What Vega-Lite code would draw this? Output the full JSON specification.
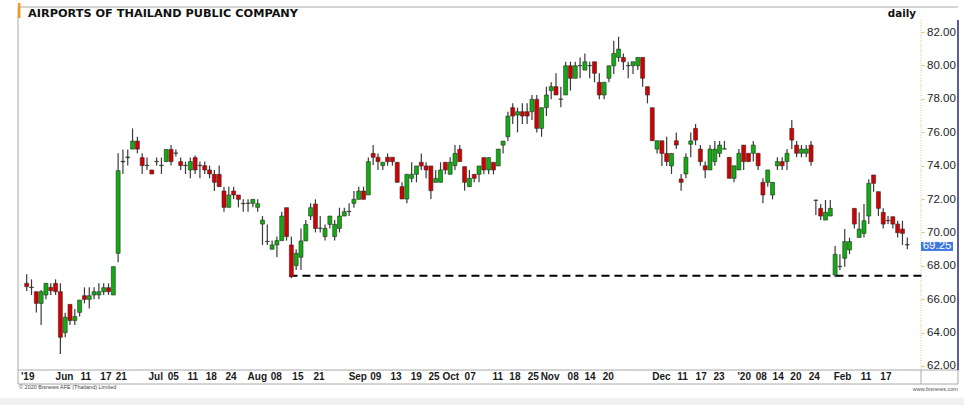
{
  "$schema": "https://vega.github.io/schema/vega-lite/v6.json",
  "width": 903,
  "height": 363,
  "autosize": {"type": "none"},
  "padding": {"left": 18, "top": 7, "right": 43, "bottom": 35},
  "background": "white",
  "config": {"view": {"stroke": null}, "font": "Liberation Sans"},
  "resolve": {"axis": {"x": "independent", "y": "independent"}},
  "datasets": {
    "candles": [
      {"i":0,"o":66.95,"h":67.49,"l":66.49,"c":66.75},
      {"i":1,"o":66.72,"h":67.19,"l":66.25,"c":66.70},
      {"i":2,"o":66.45,"h":66.45,"l":65.21,"c":65.75},
      {"i":3,"o":65.75,"h":66.55,"l":64.46,"c":66.45},
      {"i":4,"o":66.25,"h":66.95,"l":65.99,"c":66.95},
      {"i":5,"o":66.71,"h":66.95,"l":66.25,"c":66.51},
      {"i":6,"o":66.95,"h":67.19,"l":66.25,"c":66.45},
      {"i":7,"o":66.45,"h":66.95,"l":62.72,"c":63.72},
      {"i":8,"o":63.99,"h":65.19,"l":63.72,"c":64.92},
      {"i":9,"o":65.69,"h":65.69,"l":64.46,"c":64.72},
      {"i":10,"o":64.72,"h":65.41,"l":64.46,"c":64.96},
      {"i":11,"o":65.21,"h":65.95,"l":64.96,"c":65.95},
      {"i":12,"o":66.21,"h":66.71,"l":65.75,"c":65.99},
      {"i":13,"o":65.99,"h":66.71,"l":65.45,"c":66.21},
      {"i":14,"o":66.25,"h":66.71,"l":65.99,"c":66.45},
      {"i":15,"o":66.25,"h":66.95,"l":65.99,"c":66.45},
      {"i":16,"o":66.45,"h":66.95,"l":66.25,"c":66.69},
      {"i":17,"o":66.69,"h":66.95,"l":66.25,"c":66.45},
      {"i":18,"o":66.25,"h":67.95,"l":66.25,"c":67.95},
      {"i":19,"o":68.75,"h":74.74,"l":68.21,"c":73.70},
      {"i":20,"o":74.26,"h":74.97,"l":73.50,"c":74.22},
      {"i":21,"o":74.48,"h":74.97,"l":74.00,"c":74.52},
      {"i":22,"o":74.99,"h":76.23,"l":74.99,"c":75.47},
      {"i":23,"o":75.47,"h":75.73,"l":74.74,"c":74.99},
      {"i":24,"o":74.48,"h":74.74,"l":73.50,"c":74.00},
      {"i":25,"o":74.02,"h":74.48,"l":73.74,"c":74.00},
      {"i":26,"o":73.74,"h":73.74,"l":73.50,"c":73.50},
      {"i":27,"o":74.24,"h":74.48,"l":74.00,"c":74.26},
      {"i":28,"o":74.00,"h":74.48,"l":73.50,"c":74.02},
      {"i":29,"o":74.24,"h":74.97,"l":74.24,"c":74.97},
      {"i":30,"o":74.97,"h":75.23,"l":74.00,"c":74.24},
      {"i":31,"o":74.74,"h":74.97,"l":74.54,"c":74.76},
      {"i":32,"o":74.24,"h":74.48,"l":73.74,"c":74.00},
      {"i":33,"o":74.00,"h":74.24,"l":73.50,"c":74.02},
      {"i":34,"o":73.74,"h":74.48,"l":73.24,"c":74.24},
      {"i":35,"o":74.48,"h":74.60,"l":73.50,"c":73.74},
      {"i":36,"o":74.00,"h":74.24,"l":73.24,"c":74.02},
      {"i":37,"o":74.00,"h":74.24,"l":73.50,"c":73.74},
      {"i":38,"o":73.74,"h":74.00,"l":73.24,"c":73.50},
      {"i":39,"o":73.48,"h":73.74,"l":72.48,"c":73.00},
      {"i":40,"o":73.48,"h":74.00,"l":72.74,"c":72.74},
      {"i":41,"o":72.48,"h":72.74,"l":71.24,"c":71.50},
      {"i":42,"o":71.50,"h":72.74,"l":71.50,"c":72.24},
      {"i":43,"o":72.48,"h":72.74,"l":71.98,"c":72.24},
      {"i":44,"o":72.24,"h":72.24,"l":71.50,"c":71.98},
      {"i":45,"o":71.74,"h":71.98,"l":71.24,"c":71.72},
      {"i":46,"o":71.74,"h":71.98,"l":71.24,"c":71.76},
      {"i":47,"o":71.74,"h":71.98,"l":71.50,"c":71.98},
      {"i":48,"o":71.50,"h":71.98,"l":71.24,"c":71.72},
      {"i":49,"o":70.50,"h":70.98,"l":69.25,"c":70.74},
      {"i":50,"o":69.45,"h":70.48,"l":69.25,"c":69.47},
      {"i":51,"o":68.99,"h":69.51,"l":68.99,"c":69.25},
      {"i":52,"o":69.25,"h":69.75,"l":68.51,"c":69.51},
      {"i":53,"o":69.51,"h":71.24,"l":69.51,"c":70.98},
      {"i":54,"o":71.48,"h":71.48,"l":69.51,"c":69.75},
      {"i":55,"o":69.25,"h":69.75,"l":67.25,"c":67.35},
      {"i":56,"o":68.01,"h":68.99,"l":67.75,"c":68.75},
      {"i":57,"o":68.51,"h":70.24,"l":67.75,"c":69.49},
      {"i":58,"o":69.49,"h":70.74,"l":69.49,"c":70.48},
      {"i":59,"o":70.98,"h":71.74,"l":70.74,"c":71.48},
      {"i":60,"o":71.70,"h":71.98,"l":70.00,"c":70.24},
      {"i":61,"o":70.24,"h":70.98,"l":70.00,"c":70.26},
      {"i":62,"o":69.75,"h":70.48,"l":69.51,"c":70.24},
      {"i":63,"o":70.48,"h":70.98,"l":70.24,"c":70.98},
      {"i":64,"o":69.75,"h":70.74,"l":69.51,"c":70.48},
      {"i":65,"o":70.24,"h":71.48,"l":70.00,"c":70.98},
      {"i":66,"o":70.98,"h":71.48,"l":70.98,"c":71.24},
      {"i":67,"o":71.24,"h":71.74,"l":70.98,"c":71.26},
      {"i":68,"o":71.74,"h":72.48,"l":71.48,"c":71.98},
      {"i":69,"o":71.98,"h":72.74,"l":71.98,"c":72.48},
      {"i":70,"o":72.48,"h":72.74,"l":71.98,"c":71.98},
      {"i":71,"o":72.24,"h":74.48,"l":72.24,"c":74.24},
      {"i":72,"o":74.73,"h":75.23,"l":74.04,"c":74.50},
      {"i":73,"o":74.50,"h":74.73,"l":73.74,"c":74.24},
      {"i":74,"o":74.00,"h":74.20,"l":73.74,"c":74.20},
      {"i":75,"o":74.50,"h":74.73,"l":74.00,"c":74.24},
      {"i":76,"o":74.50,"h":74.50,"l":74.00,"c":74.24},
      {"i":77,"o":74.20,"h":74.20,"l":73.00,"c":73.00},
      {"i":78,"o":72.74,"h":73.00,"l":72.00,"c":72.00},
      {"i":79,"o":72.00,"h":73.48,"l":71.74,"c":73.48},
      {"i":80,"o":73.24,"h":74.20,"l":73.00,"c":73.48},
      {"i":81,"o":73.48,"h":73.98,"l":73.00,"c":73.98},
      {"i":82,"o":74.20,"h":74.73,"l":73.74,"c":73.98},
      {"i":83,"o":73.98,"h":74.20,"l":73.24,"c":73.74},
      {"i":84,"o":73.98,"h":73.98,"l":72.00,"c":72.50},
      {"i":85,"o":73.00,"h":73.74,"l":73.00,"c":73.24},
      {"i":86,"o":73.00,"h":74.20,"l":73.00,"c":73.74},
      {"i":87,"o":74.20,"h":74.20,"l":73.48,"c":73.74},
      {"i":88,"o":73.48,"h":74.50,"l":73.48,"c":74.20},
      {"i":89,"o":74.00,"h":75.23,"l":73.74,"c":74.73},
      {"i":90,"o":74.98,"h":75.23,"l":74.24,"c":74.24},
      {"i":91,"o":73.94,"h":73.94,"l":72.50,"c":73.00},
      {"i":92,"o":72.74,"h":73.74,"l":72.74,"c":73.24},
      {"i":93,"o":73.48,"h":73.48,"l":73.00,"c":73.24},
      {"i":94,"o":73.48,"h":73.98,"l":73.00,"c":73.98},
      {"i":95,"o":74.48,"h":74.48,"l":73.48,"c":73.74},
      {"i":96,"o":73.74,"h":74.48,"l":73.48,"c":74.48},
      {"i":97,"o":74.20,"h":74.20,"l":73.48,"c":73.74},
      {"i":98,"o":73.98,"h":74.99,"l":73.98,"c":74.99},
      {"i":99,"o":75.23,"h":75.47,"l":74.73,"c":75.47},
      {"i":100,"o":75.73,"h":77.23,"l":75.47,"c":76.97},
      {"i":101,"o":77.47,"h":77.73,"l":76.49,"c":76.97},
      {"i":102,"o":77.03,"h":77.47,"l":75.99,"c":77.23},
      {"i":103,"o":77.23,"h":77.73,"l":76.49,"c":76.97},
      {"i":104,"o":77.23,"h":77.73,"l":76.49,"c":76.97},
      {"i":105,"o":77.23,"h":78.23,"l":76.73,"c":77.97},
      {"i":106,"o":77.97,"h":78.23,"l":75.99,"c":76.23},
      {"i":107,"o":76.23,"h":77.47,"l":75.73,"c":77.47},
      {"i":108,"o":77.47,"h":78.73,"l":76.97,"c":78.23},
      {"i":109,"o":78.49,"h":78.99,"l":77.97,"c":78.73},
      {"i":110,"o":78.73,"h":79.53,"l":78.23,"c":78.23},
      {"i":111,"o":77.97,"h":78.73,"l":77.49,"c":77.99},
      {"i":112,"o":78.23,"h":80.22,"l":78.23,"c":79.98},
      {"i":113,"o":79.98,"h":80.22,"l":78.49,"c":79.23},
      {"i":114,"o":79.23,"h":80.22,"l":79.23,"c":79.98},
      {"i":115,"o":79.98,"h":80.48,"l":79.23,"c":80.00},
      {"i":116,"o":79.72,"h":80.72,"l":79.72,"c":80.22},
      {"i":117,"o":79.98,"h":80.22,"l":79.23,"c":80.00},
      {"i":118,"o":80.22,"h":80.22,"l":78.99,"c":79.53},
      {"i":119,"o":78.99,"h":79.53,"l":77.97,"c":78.23},
      {"i":120,"o":78.23,"h":78.99,"l":77.97,"c":78.99},
      {"i":121,"o":79.23,"h":79.98,"l":78.99,"c":79.98},
      {"i":122,"o":79.98,"h":81.48,"l":79.49,"c":80.72},
      {"i":123,"o":80.48,"h":81.72,"l":80.22,"c":80.98},
      {"i":124,"o":80.48,"h":80.72,"l":79.72,"c":80.22},
      {"i":125,"o":79.98,"h":80.22,"l":79.23,"c":80.00},
      {"i":126,"o":79.98,"h":80.22,"l":79.49,"c":80.22},
      {"i":127,"o":79.98,"h":80.48,"l":79.72,"c":80.48},
      {"i":128,"o":80.48,"h":80.48,"l":78.73,"c":79.23},
      {"i":129,"o":78.73,"h":78.73,"l":77.73,"c":78.23},
      {"i":130,"o":77.47,"h":77.47,"l":75.49,"c":75.49},
      {"i":131,"o":74.99,"h":75.49,"l":74.73,"c":75.49},
      {"i":132,"o":75.49,"h":75.49,"l":73.98,"c":74.73},
      {"i":133,"o":74.73,"h":75.73,"l":73.98,"c":74.24},
      {"i":134,"o":73.98,"h":74.73,"l":73.50,"c":74.73},
      {"i":135,"o":75.49,"h":75.99,"l":74.99,"c":75.23},
      {"i":136,"o":73.20,"h":73.50,"l":72.50,"c":73.00},
      {"i":137,"o":73.50,"h":74.74,"l":73.24,"c":74.50},
      {"i":138,"o":75.28,"h":75.99,"l":74.50,"c":75.48},
      {"i":139,"o":76.23,"h":76.49,"l":75.23,"c":75.53},
      {"i":140,"o":74.99,"h":75.23,"l":73.99,"c":74.24},
      {"i":141,"o":73.99,"h":74.24,"l":73.24,"c":73.74},
      {"i":142,"o":73.74,"h":75.23,"l":73.74,"c":74.99},
      {"i":143,"o":74.24,"h":75.48,"l":73.99,"c":74.99},
      {"i":144,"o":74.74,"h":75.48,"l":74.50,"c":75.23},
      {"i":145,"o":74.99,"h":75.48,"l":74.99,"c":75.01},
      {"i":146,"o":74.50,"h":74.50,"l":73.24,"c":73.24},
      {"i":147,"o":73.24,"h":73.99,"l":73.00,"c":73.99},
      {"i":148,"o":73.74,"h":74.99,"l":73.74,"c":74.74},
      {"i":149,"o":75.23,"h":75.23,"l":73.74,"c":74.24},
      {"i":150,"o":74.74,"h":74.74,"l":74.24,"c":74.24},
      {"i":151,"o":74.74,"h":75.48,"l":74.24,"c":75.23},
      {"i":152,"o":74.74,"h":74.74,"l":73.74,"c":73.99},
      {"i":153,"o":73.00,"h":73.24,"l":71.74,"c":72.24},
      {"i":154,"o":73.00,"h":73.74,"l":72.74,"c":73.74},
      {"i":155,"o":72.24,"h":73.00,"l":71.98,"c":73.00},
      {"i":156,"o":73.99,"h":74.50,"l":73.74,"c":74.24},
      {"i":157,"o":74.24,"h":74.50,"l":73.74,"c":73.99},
      {"i":158,"o":74.24,"h":74.99,"l":73.74,"c":74.74},
      {"i":159,"o":76.23,"h":76.73,"l":74.99,"c":75.53},
      {"i":160,"o":75.23,"h":75.48,"l":74.50,"c":74.74},
      {"i":161,"o":74.74,"h":75.23,"l":74.50,"c":74.99},
      {"i":162,"o":74.74,"h":75.23,"l":74.50,"c":74.99},
      {"i":163,"o":75.23,"h":75.48,"l":73.99,"c":74.24},
      {"i":164,"o":71.94,"h":71.94,"l":71.04,"c":71.92},
      {"i":165,"o":71.44,"h":71.70,"l":70.74,"c":70.98},
      {"i":166,"o":70.74,"h":71.94,"l":70.74,"c":71.20},
      {"i":167,"o":70.98,"h":71.94,"l":70.98,"c":71.44},
      {"i":168,"o":67.45,"h":69.19,"l":67.31,"c":68.69},
      {"i":169,"o":67.95,"h":68.69,"l":67.75,"c":67.97},
      {"i":170,"o":68.45,"h":70.20,"l":67.95,"c":69.45},
      {"i":171,"o":68.95,"h":69.68,"l":68.70,"c":69.45},
      {"i":172,"o":71.44,"h":71.44,"l":70.24,"c":70.50},
      {"i":173,"o":69.70,"h":71.20,"l":69.70,"c":70.20},
      {"i":174,"o":69.94,"h":71.70,"l":69.70,"c":70.70},
      {"i":175,"o":70.98,"h":73.18,"l":70.50,"c":72.94},
      {"i":176,"o":73.44,"h":73.44,"l":72.44,"c":72.94},
      {"i":177,"o":72.44,"h":72.44,"l":70.98,"c":71.44},
      {"i":178,"o":71.20,"h":71.44,"l":70.24,"c":70.50},
      {"i":179,"o":70.70,"h":70.98,"l":70.50,"c":70.72},
      {"i":180,"o":70.94,"h":70.94,"l":70.24,"c":70.50},
      {"i":181,"o":70.50,"h":70.70,"l":69.70,"c":69.98},
      {"i":182,"o":70.20,"h":70.70,"l":69.25,"c":69.94},
      {"i":183,"o":69.27,"h":69.70,"l":68.99,"c":69.25}
    ]
  },
  "layer": [
    {
      "data": {"values": [{}]},
      "mark": {"type": "rect", "color": "#f1f1f1"},
      "encoding": {
        "x": {"datum": -5.55, "axis": null},
        "x2": {"datum": 196.8},
        "y": {"datum": 60.1, "axis": null},
        "y2": {"datum": 59.4}
      }
    },
    {
      "data": {"values": [{}]},
      "mark": {"type": "rule", "color": "#a8a8a8", "strokeWidth": 1},
      "encoding": {
        "x": {"datum": -1.808, "axis": null},
        "x2": {"datum": 193.54},
        "y": {"datum": 83.5, "axis": null}
      }
    },
    {
      "data": {"values": [{}]},
      "mark": {"type": "rule", "color": "#a8a8a8", "strokeWidth": 1},
      "encoding": {
        "x": {"datum": -1.808, "axis": null},
        "x2": {"datum": 193.54},
        "y": {"datum": 61.76, "axis": null}
      }
    },
    {
      "data": {"values": [{}]},
      "mark": {"type": "rule", "color": "#a8a8a8", "strokeWidth": 1},
      "encoding": {
        "x": {"datum": -1.808, "axis": null},
        "x2": {"datum": 193.54},
        "y": {"datum": 60.92, "axis": null}
      }
    },
    {
      "data": {"values": [{}]},
      "mark": {"type": "rule", "color": "#a8a8a8", "strokeWidth": 1},
      "encoding": {
        "x": {"datum": -1.808, "axis": null},
        "y": {"datum": 83.5, "axis": null},
        "y2": {"datum": 60.92}
      }
    },
    {
      "data": {"values": [{}]},
      "mark": {"type": "rule", "color": "#a8a8a8", "strokeWidth": 1},
      "encoding": {
        "x": {"datum": 185.85, "axis": null},
        "y": {"datum": 61.76, "axis": null},
        "y2": {"datum": 60.92}
      }
    },
    {
      "data": {"values": [{}]},
      "mark": {"type": "rule", "color": "#a8a8a8", "strokeWidth": 1},
      "encoding": {
        "x": {"datum": 193.54, "axis": null},
        "y": {"datum": 61.76, "axis": null},
        "y2": {"datum": 60.92}
      }
    },
    {
      "data": {"values": [{}]},
      "mark": {"type": "rule", "color": "#1f2a80", "strokeWidth": 1.5},
      "encoding": {
        "x": {"datum": 193.54, "axis": null},
        "y": {"datum": 82.72, "axis": null},
        "y2": {"datum": 61.76}
      }
    },
    {
      "data": {"values": [{}]},
      "mark": {"type": "rule", "color": "#dfc27a", "strokeWidth": 1, "strokeDash": [1, 1.5]},
      "encoding": {
        "x": {"datum": 185.85, "axis": null},
        "y": {"datum": 82.72, "axis": null},
        "y2": {"datum": 61.76}
      }
    },
    {
      "data": {"values": [{}]},
      "mark": {"type": "rule", "color": "#000000", "strokeWidth": 2, "strokeDash": [8, 5]},
      "encoding": {
        "x": {"datum": 54.6, "axis": null},
        "x2": {"datum": 187.0},
        "y": {"datum": 67.4, "axis": null}
      }
    },
    {
      "data": {"name": "candles"},
      "mark": {"type": "rule", "color": "#3a3a3a", "strokeWidth": 1.2},
      "encoding": {
        "x": {
          "field": "i",
          "type": "quantitative",
          "scale": {"domain": [-1.808, 185.85], "nice": false, "zero": false, "padding": 0},
          "axis": {
            "title": null,
            "values": [-1.3, 5.9, 11.1, 15.2, 18.4, 25.2, 29.2, 33.3, 37.1, 41.2, 45.8, 50.6, 55.1, 59.5, 66.8, 71.3, 75.5, 79.7, 83.4, 86.3, 90.9, 96.7, 100.2, 104, 106.7, 112.3, 115.8, 119.6, 129.9, 135.1, 138.9, 142.6, 147.6, 151.4, 154.9, 158.6, 162.4, 167.6, 173.2, 177.3],
            "labelExpr": "datum.value==-1.3?\"'19\":datum.value==5.9?'Jun':datum.value==11.1?'11':datum.value==15.2?'17':datum.value==18.4?'21':datum.value==25.2?'Jul':datum.value==29.2?'05':datum.value==33.3?'11':datum.value==37.1?'18':datum.value==41.2?'24':datum.value==45.8?'Aug':datum.value==50.6?'08':datum.value==55.1?'15':datum.value==59.5?'21':datum.value==66.8?'Sep':datum.value==71.3?'09':datum.value==75.5?'13':datum.value==79.7?'19':datum.value==83.4?'25':datum.value==86.3?'Oct':datum.value==90.9?'07':datum.value==96.7?'11':datum.value==100.2?'18':datum.value==104?'25':datum.value==106.7?'Nov':datum.value==112.3?'08':datum.value==115.8?'14':datum.value==119.6?'20':datum.value==129.9?'Dec':datum.value==135.1?'11':datum.value==138.9?'17':datum.value==142.6?'23':datum.value==147.6?\"'20\":datum.value==151.4?'08':datum.value==154.9?'14':datum.value==158.6?'20':datum.value==162.4?'24':datum.value==167.6?'Feb':datum.value==173.2?'11':datum.value==177.3?'17':''",
            "labelAlign": "left",
            "labelBaseline": "top",
            "labelFont": "Liberation Sans",
            "labelFontWeight": "bold",
            "labelFontSize": 10,
            "labelColor": "#1a1a1a",
            "labelPadding": 1.5,
            "ticks": false,
            "tickSize": 0,
            "domain": false,
            "grid": false,
            "labelOverlap": false,
            "labelFlush": false,
            "labelBound": false
          }
        },
        "y": {
          "field": "l",
          "type": "quantitative",
          "scale": {"domain": [61.76, 83.5], "nice": false, "zero": false, "padding": 0},
          "axis": {
            "orient": "right",
            "title": null,
            "values": [62, 64, 66, 68, 70, 72, 74, 76, 78, 80, 82],
            "format": ".2f",
            "labelFont": "Liberation Sans",
            "labelFontSize": 11.5,
            "labelColor": "#222222",
            "labelPadding": 2.5,
            "tickSize": 3,
            "tickColor": "#dfc27a",
            "domain": false,
            "grid": false,
            "labelOverlap": false,
            "labelFlush": false,
            "labelBound": false
          }
        },
        "y2": {"field": "h"}
      }
    },
    {
      "data": {"name": "candles"},
      "mark": {"type": "bar", "size": 4, "stroke": "#2b2b2b", "strokeWidth": 0.6},
      "encoding": {
        "x": {"field": "i", "type": "quantitative", "axis": null},
        "y": {"field": "o", "type": "quantitative", "axis": null},
        "y2": {"field": "c"},
        "color": {
          "condition": {"test": "datum.c >= datum.o", "value": "#10ad10"},
          "value": "#d30000"
        }
      }
    },
    {
      "data": {"values": [{}]},
      "mark": {"type": "rect", "color": "#f39a1e"},
      "encoding": {
        "x": {"datum": -1.808, "axis": null},
        "x2": {"datum": -1.3},
        "y": {"datum": 83.74, "axis": null},
        "y2": {"datum": 82.84}
      }
    },
    {
      "data": {"values": [{}]},
      "mark": {"type": "text", "align": "left", "baseline": "middle", "font": "DejaVu Sans", "fontWeight": "bold", "fontSize": 11.3, "color": "#111111"},
      "encoding": {
        "x": {"datum": 0.27, "axis": null},
        "y": {"datum": 83.11, "axis": null},
        "text": {"value": "AIRPORTS OF THAILAND PUBLIC COMPANY"}
      }
    },
    {
      "data": {"values": [{}]},
      "mark": {"type": "text", "align": "right", "baseline": "middle", "font": "DejaVu Sans", "fontWeight": "bold", "fontSize": 10.3, "color": "#111111"},
      "encoding": {
        "x": {"datum": 184.8, "axis": null},
        "y": {"datum": 83.11, "axis": null},
        "text": {"value": "daily"}
      }
    },
    {
      "data": {"values": [{}]},
      "mark": {"type": "rect", "color": "#3f78e0"},
      "encoding": {
        "x": {"datum": 185.85, "axis": null},
        "x2": {"datum": 192.5},
        "y": {"datum": 69.43, "axis": null},
        "y2": {"datum": 68.89}
      }
    },
    {
      "data": {"values": [{}]},
      "mark": {"type": "text", "align": "left", "baseline": "middle", "font": "Liberation Sans", "fontSize": 11.5, "color": "#ffffff"},
      "encoding": {
        "x": {"datum": 186.2, "axis": null},
        "y": {"datum": 69.16, "axis": null},
        "text": {"value": "69.25"}
      }
    },
    {
      "data": {"values": [{}]},
      "mark": {"type": "text", "align": "left", "baseline": "middle", "font": "Liberation Sans", "fontSize": 5.5, "color": "#444444"},
      "encoding": {
        "x": {"datum": -1.6, "axis": null},
        "y": {"datum": 60.74, "axis": null},
        "text": {"value": "© 2020 Bisnews AFE (Thailand) Limited"}
      }
    },
    {
      "data": {"values": [{}]},
      "mark": {"type": "text", "align": "right", "baseline": "middle", "font": "Liberation Sans", "fontSize": 5.5, "color": "#555555"},
      "encoding": {
        "x": {"datum": 193.5, "axis": null},
        "y": {"datum": 60.62, "axis": null},
        "text": {"value": "www.bisnews.com"}
      }
    }
  ]
}
